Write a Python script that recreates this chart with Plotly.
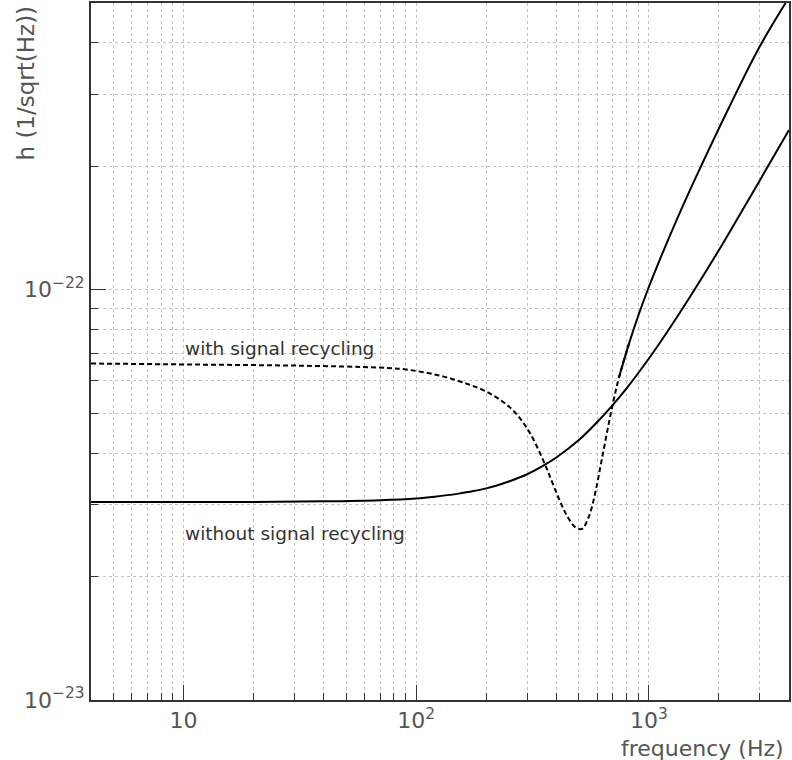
import math
import plotly.graph_objects as go

# ---- data ----
freq_nosr = [4, 10, 20, 40, 70, 100, 120, 150, 170, 200, 250, 300, 350, 400, 500, 600,
             700, 800, 1000, 1200, 1500, 2000, 2500, 3000, 3500, 4000]
h_nosr = [3.04e-23, 3.04e-23, 3.04e-23, 3.05e-23, 3.07e-23, 3.10e-23, 3.13e-23, 3.18e-23,
          3.22e-23, 3.28e-23, 3.41e-23, 3.55e-23, 3.72e-23, 3.90e-23, 4.30e-23, 4.76e-23,
          5.24e-23, 5.74e-23, 6.80e-23, 7.90e-23, 9.60e-23, 1.25e-22, 1.55e-22,
          1.85e-22, 2.15e-22, 2.45e-22]

freq_sr = [4, 11.71, 31.47, 69.39, 90.6, 125.5, 163.9, 195.7, 227.1, 263.4, 305.5,
           357.8, 383.4, 410.9, 436.0, 462.7, 481.3, 500.8, 520.9, 541.9, 563.7, 592.2,
           628.5, 673.5, 707.7, 743.4, 821.0, 906.0, 1000, 1104, 1345, 1639, 2204, 2966, 4000]
h_sr = [6.61e-23, 6.57e-23, 6.53e-23, 6.46e-23, 6.39e-23, 6.18e-23, 5.91e-23, 5.68e-23,
        5.41e-23, 5.05e-23, 4.51e-23, 3.75e-23, 3.40e-23, 3.09e-23, 2.87e-23, 2.71e-23,
        2.64e-23, 2.61e-23, 2.62e-23, 2.73e-23, 2.90e-23, 3.26e-23, 3.88e-23, 4.75e-23,
        5.43e-23, 6.11e-23, 7.39e-23, 8.74e-23, 1.017e-22, 1.170e-22, 1.522e-22,
        1.948e-22, 2.773e-22, 3.880e-22, 5.16e-22]
sr_split = 25  # index where the drawn line changes from dashed to solid (~740 Hz)

x_major = [10, 100, 1000]
x_major_text = ["10", "10<sup>2</sup>", "10<sup>3</sup>"]
x_minor = [5, 6, 7, 8, 9, 20, 30, 40, 50, 60, 70, 80, 90,
           200, 300, 400, 500, 600, 700, 800, 900, 2000, 3000, 4000]
y_major = [1e-23, 1e-22]
y_major_text = ["10<sup>\u221223</sup>", "10<sup>\u221222</sup>"]
y_minor = [2e-23, 3e-23, 4e-23, 5e-23, 6e-23, 7e-23, 8e-23, 9e-23,
           2e-22, 3e-22, 4e-22, 5e-22]

x_title = "frequency (Hz)"
y_title = "h (1/sqrt(Hz))"
label_sr = "with signal recycling"
label_nosr = "without signal recycling"

FONT = "DejaVu Sans"
AX = "#333333"
GRID = "#c4c4c4"
TXT = "#555555"

fig = go.Figure()
fig.add_trace(go.Scatter(x=freq_nosr, y=h_nosr, mode="lines",
                         line=dict(color="black", width=2, shape="spline", smoothing=1.0),
                         showlegend=False, hoverinfo="skip"))
fig.add_trace(go.Scatter(x=freq_sr[:sr_split + 2], y=h_sr[:sr_split + 2], mode="lines",
                         line=dict(color="black", width=2, dash="5px,3px", shape="spline", smoothing=1.0),
                         showlegend=False, hoverinfo="skip"))
fig.add_trace(go.Scatter(x=freq_sr[sr_split:], y=h_sr[sr_split:], mode="lines",
                         line=dict(color="black", width=2, shape="spline", smoothing=1.0),
                         showlegend=False, hoverinfo="skip"))

fig.update_xaxes(type="log", range=[math.log10(4), math.log10(4000)],
                 tickmode="array", tickvals=x_major, ticktext=x_major_text,
                 ticks="inside", ticklen=15, tickwidth=1, tickcolor=AX,
                 showgrid=True, gridcolor=GRID, griddash="dot", gridwidth=1,
                 minor=dict(tickmode="array", tickvals=x_minor, ticks="inside", ticklen=7,
                            tickcolor=AX, tickwidth=1, showgrid=True, gridcolor=GRID,
                            griddash="dot", gridwidth=1),
                 showline=True, linecolor=AX, linewidth=2, mirror=True,
                 zeroline=False, tickfont=dict(family=FONT, size=22, color=TXT))
fig.update_yaxes(type="log", range=[-23, math.log10(5e-22)],
                 tickmode="array", tickvals=y_major, ticktext=y_major_text,
                 ticks="inside", ticklen=15, tickwidth=1, tickcolor=AX,
                 showgrid=True, gridcolor=GRID, griddash="dot", gridwidth=1,
                 minor=dict(tickmode="array", tickvals=y_minor, ticks="inside", ticklen=7,
                            tickcolor=AX, tickwidth=1, showgrid=True, gridcolor=GRID,
                            griddash="dot", gridwidth=1),
                 showline=True, linecolor=AX, linewidth=2, mirror=True,
                 zeroline=False, tickfont=dict(family=FONT, size=22, color=TXT))

fig.add_annotation(text=x_title, xref="paper", yref="paper", x=1, y=0,
                   xanchor="right", yanchor="top", xshift=-3, yshift=-34, showarrow=False,
                   font=dict(family=FONT, size=22, color=TXT))
fig.add_annotation(text=y_title, xref="paper", yref="paper", x=0, y=1,
                   xanchor="center", yanchor="top", xshift=-66, yshift=-1, textangle=-90,
                   showarrow=False, font=dict(family=FONT, size=23, color=TXT))
fig.add_annotation(text=label_sr, xref="paper", yref="paper", x=(183 - 91) / 700, y=(700 - 348) / 697,
                   xanchor="left", yanchor="middle", showarrow=False,
                   font=dict(family=FONT, size=18.5, color="#333333"))
fig.add_annotation(text=label_nosr, xref="paper", yref="paper", x=(183 - 91) / 700, y=(700 - 533) / 697,
                   xanchor="left", yanchor="middle", showarrow=False,
                   font=dict(family=FONT, size=18.5, color="#333333"))

fig.update_layout(width=792, height=760, margin=dict(l=91, r=1, t=3, b=60),
                  paper_bgcolor="white", plot_bgcolor="white", showlegend=False,
                  font=dict(family=FONT))
fig.write_html("out.html")
